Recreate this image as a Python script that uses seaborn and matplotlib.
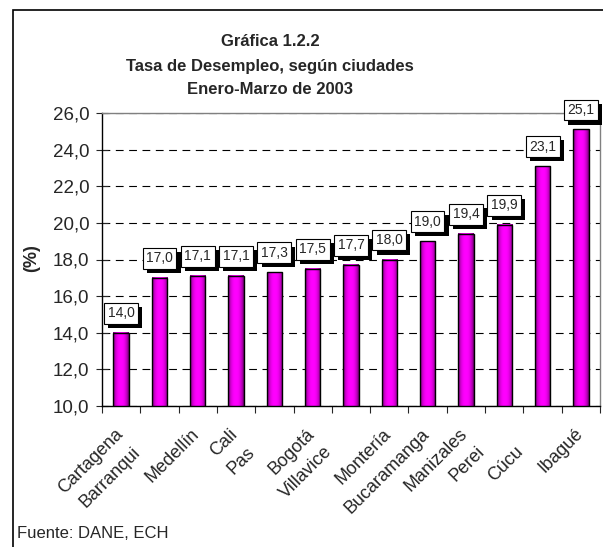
import matplotlib
matplotlib.use("Agg")
import matplotlib.pyplot as plt
import matplotlib.patheffects as pe
from matplotlib.patches import Rectangle
from matplotlib.ticker import FuncFormatter, MultipleLocator
from matplotlib.transforms import ScaledTranslation
import numpy as np
import seaborn as sns

# Datos (ECH, enero-marzo 2003)
ciudades = ["Cartagena", "Barranquilla", "Medellín", "Cali", "Pasto", "Bogotá",
            "Villavicencio", "Montería", "Bucaramanga", "Manizales", "Pereira",
            "Cúcuta", "Ibagué"]
tasas = [14.0, 17.0, 17.1, 17.1, 17.3, 17.5, 17.7, 18.0, 19.0, 19.4, 19.9, 23.1, 25.1]
# etiquetas tal como se ven (recortadas) en la grafica original
etiquetas = ["Cartagena", "Barranqui", "Medellín", "Cali", "Pas", "Bogotá",
             "Villavice", "Montería", "Bucaramanga", "Manizales", "Perei",
             "Cúcu", "Ibagué"]
fila_baja = [False, True, False, False, True, False, True, False, False, False,
             True, True, False]

sns.set_style("white")
plt.rcParams["font.family"] = ["Liberation Sans", "DejaVu Sans"]

fig = plt.figure(figsize=(6.03, 5.47), dpi=100)
ax = fig.add_axes([102 / 603, 1 - 406 / 547, 498 / 603, 293 / 547])

sns.barplot(x=ciudades, y=tasas, color="#FF00FF", edgecolor="black",
            linewidth=1, width=0.4, ax=ax)

# relleno con degradado tipo cilindro
t = np.linspace(0, 1, 40)
k = 0.45 + 0.55 * (1 - np.abs(2 * t - 1) ** 2.5)
grad = np.zeros((1, len(t), 3))
grad[0, :, 0] = k
grad[0, :, 2] = k
for p in ax.patches:
    x0, w, h = p.get_x(), p.get_width(), p.get_height()
    ax.imshow(grad, extent=(x0, x0 + w, 10, h), aspect="auto", zorder=2.5,
              interpolation="bilinear")
    p.set_facecolor("none")
    p.set_zorder(3)
ax.set_ylim(10, 26)
ax.set_xlim(-0.5, len(ciudades) - 0.5)

# etiquetas de valor con sombra
for i, v in enumerate(tasas):
    txt = ax.annotate(f"{v:.1f}".replace(".", ","), xy=(i, v), xytext=(0, 9),
                      textcoords="offset points", ha="center", va="bottom",
                      fontsize=10, zorder=6,
                      bbox=dict(boxstyle="square,pad=0.25", fc="white",
                                ec="black", lw=0.8))
    txt.get_bbox_patch().set_path_effects([
        pe.SimplePatchShadow(offset=(3, -3), shadow_rgbFace="black", alpha=1.0),
        pe.Normal()])

# ejes
ax.yaxis.set_major_locator(MultipleLocator(2))
ax.yaxis.set_major_formatter(FuncFormatter(lambda v, _: f"{v:.1f}".replace(".", ",")))
ax.tick_params(axis="y", direction="inout", length=8, width=0.8, labelsize=13.5,
               left=True, pad=5)
ax.yaxis.grid(True, linestyle=(0, (7, 5)), color="black", linewidth=0.8)
ax.set_axisbelow(True)
fig.canvas.draw()
gl = ax.get_ygridlines()
gl[0].set_visible(False)
gl[-1].set_visible(False)

ax.set_xticks(np.arange(len(ciudades) + 1) - 0.5, minor=True)
ax.tick_params(axis="x", which="minor", direction="out", length=5, width=0.8,
               bottom=True)
ax.set_xticks(np.arange(len(ciudades)))
ax.set_xticklabels(etiquetas, rotation=45, ha="right", rotation_mode="anchor",
                   fontsize=13)
ax.tick_params(axis="x", which="major", length=0, pad=15)
for lab, baja in zip(ax.get_xticklabels(), fila_baja):
    dx, dy = (-20, -12) if baja else (-5, 1)
    lab.set_transform(lab.get_transform() +
                      ScaledTranslation(dx / 72, dy / 72, fig.dpi_scale_trans))

ax.set_xlabel("")
for s in ["left", "bottom"]:
    ax.spines[s].set_color("black")
    ax.spines[s].set_linewidth(1)
for s in ["top", "right"]:
    ax.spines[s].set_color("#808080")
    ax.spines[s].set_linewidth(1)

# titulos y textos
fig.text(0.448, 1 - 42 / 547, "Gráfica 1.2.2", ha="center", va="center",
         fontsize=12, fontweight="bold")
fig.text(0.448, 1 - 66 / 547, "Tasa de Desempleo, según ciudades", ha="center",
         va="center", fontsize=12, fontweight="bold")
fig.text(0.448, 1 - 90 / 547, "Enero-Marzo de 2003", ha="center", va="center",
         fontsize=12, fontweight="bold")
fig.text(32 / 603, 1 - 258 / 547, "(%)", rotation=90, ha="center", va="center",
         fontsize=13, fontweight="bold")
fig.text(17 / 603, 1 - 534 / 547, "Fuente: DANE, ECH", ha="left", va="center",
         fontsize=12)

# marco exterior
fig.patches.append(Rectangle((13 / 603, -0.1), 1.2, 1 - 10 / 547 + 0.1,
                             transform=fig.transFigure, fill=False,
                             ec="black", lw=1.2, zorder=0))

fig.savefig("out.png", dpi=100)
